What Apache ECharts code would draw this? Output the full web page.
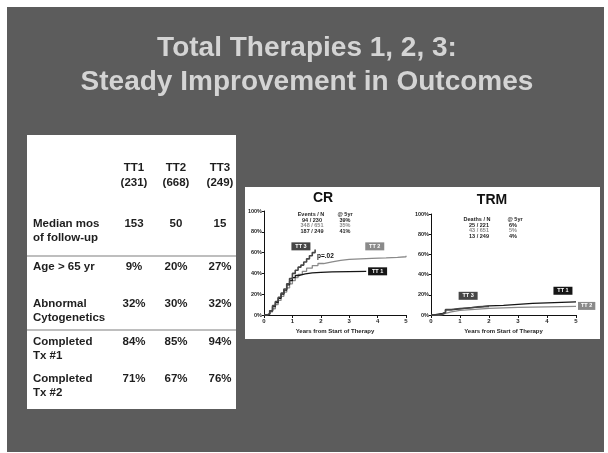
<!DOCTYPE html>
<html lang="en">
<head>
<meta charset="UTF-8" />
<title>Total Therapies 1, 2, 3</title>
<script src="https://cdn.jsdelivr.net/npm/echarts@6/dist/echarts.min.js"></script>
<style>
  * { margin: 0; padding: 0; box-sizing: border-box; }
  body { background: #fff; width: 608px; height: 453px; overflow: hidden; }
  #chart { width: 608px; height: 453px; }
</style>
</head>
<body>
<div id="chart"></div>
<script>
/* ---------- data ---------- */
const titleLines = ["Total Therapies 1, 2, 3:", "Steady Improvement in Outcomes"];

const arms = ["TT1", "TT2", "TT3"];
const armN = ["(231)", "(668)", "(249)"];
const armTags = ["TT 1", "TT 2", "TT 3"];
const rowLabels = [
  ["Median mos", "of follow-up"],
  ["Age > 65 yr"],
  ["Abnormal", "Cytogenetics"],
  ["Completed", "Tx #1"],
  ["Completed", "Tx #2"]
];
const rowValues = [
  ["153", "50", "15"],
  ["9%", "20%", "27%"],
  ["32%", "30%", "32%"],
  ["84%", "85%", "94%"],
  ["71%", "67%", "76%"]
];

// CR curves: [years, %]
const crTT1 = [[0,0],[0.12,1],[0.2,4],[0.3,8],[0.4,12],[0.5,16],[0.6,20],[0.7,24],[0.8,29],[0.9,33],
  [1.0,36],[1.1,38],[1.25,39.5],[1.45,40.5],[1.7,41],[2.0,41.5],[2.4,42],[3.6,42]];
const crTT2 = [[0,0],[0.1,1],[0.2,3],[0.3,6],[0.4,10],[0.5,14],[0.6,18],[0.7,22],[0.8,26],[0.9,30],
  [1.0,33],[1.1,36],[1.2,39],[1.35,42],[1.5,45],[1.7,47.5],[1.9,49.5],[2.1,51],[2.4,52.5],[2.7,53.5],
  [3.0,54],[3.4,54.5],[3.8,55],[4.3,55.5],[4.7,56],[5.0,57]];
const crTT3 = [[0,0],[0.1,1],[0.2,4],[0.3,9],[0.4,13],[0.5,17],[0.6,21],[0.7,25],[0.8,30],[0.9,35],
  [1.0,40],[1.1,43],[1.2,46],[1.3,48],[1.4,51],[1.5,54],[1.6,57],[1.7,60],[1.8,63]];
const crEvents = ["94 / 230", "348 / 651", "187 / 249"];
const crAt5 = ["39%", "35%", "41%"];
const crP = "p=.02";

// TRM curves: [years, %]
const trmTT1 = [[0,0],[0.1,0.5],[0.2,1],[0.3,1.5],[0.4,2.5],[0.5,5],[0.7,6],[1.0,7],[1.3,8],[1.7,9],
  [2.0,9.5],[2.5,10.5],[3.0,11.5],[3.5,12],[4.0,12.5],[4.5,13],[5.0,13.5]];
const trmTT2 = [[0,0],[0.2,0.5],[0.4,1.5],[0.5,3],[0.7,4.5],[1.0,5.5],[1.5,6.5],[2.0,7],[2.5,7.5],
  [3.0,8],[4.0,8.5],[5.0,9]];
const trmTT3 = [[0,0],[0.2,1],[0.4,2.5],[0.5,5.5],[0.7,6.5],[1.0,7],[1.3,8],[1.6,8.5],[2.0,9]];
const trmDeaths = ["25 / 221", "43 / 651", "13 / 249"];
const trmAt5 = ["6%", "5%", "4%"];

/* ---------- styling ---------- */
const FONT = "'Liberation Sans', Arial, sans-serif";
const armColor = ["#151515", "#8a8a8a", "#464646"];
const ink = "#1e1e1e";

const chart = echarts.init(document.getElementById("chart"), null, { renderer: "canvas" });

function xAx(i) {
  return {
    type: "value", gridIndex: i, min: 0, max: 5, interval: 1,
    axisLine: { lineStyle: { color: "#111", width: 1 } },
    axisTick: { length: 3, lineStyle: { color: "#111" } },
    axisLabel: { fontSize: 6, fontWeight: "bold", color: ink, margin: 3, fontFamily: FONT },
    splitLine: { show: false },
    name: "Years from Start of Therapy", nameLocation: "middle", nameGap: 13,
    nameTextStyle: { fontSize: 6, fontWeight: "bold", color: ink, fontFamily: FONT }
  };
}
function yAx(i) {
  return {
    type: "value", gridIndex: i, min: 0, max: 100, interval: 20,
    axisLine: { show: true, lineStyle: { color: "#111", width: 1 } },
    axisTick: { show: true, length: 2, lineStyle: { color: "#111" } },
    axisLabel: { formatter: "{value}%", fontSize: 5.5, fontWeight: "bold", color: ink, margin: 2, fontFamily: FONT },
    splitLine: { show: false }
  };
}
const tagLabel = (k) => ({ show: true, formatter: armTags[k], color: "#fff",
  fontSize: 5.5, fontWeight: "bold", fontFamily: FONT });

function curve(name, g, k, data, coord, w) {
  const s = {
    name: name, type: "line", xAxisIndex: g, yAxisIndex: g, step: "end",
    data: data, showSymbol: false, clip: false, silent: true,
    lineStyle: { color: armColor[k], width: w || 1.3 }
  };
  if (coord) {
    s.markPoint = {
      symbol: "rect", symbolSize: [19, 8], silent: true, animation: false,
      itemStyle: { color: armColor[k] },
      label: Object.assign(tagLabel(k), { position: "inside" }),
      data: [{ coord: coord }]
    };
  } else {
    // tag sitting just past the end of the curve
    s.endLabel = Object.assign(tagLabel(k), {
      backgroundColor: armColor[k], padding: [1, 3, 1, 3], distance: 2, lineHeight: 6
    });
  }
  return s;
}

/* ---------- graphic: slide, table, annotations ---------- */
const g = [];
g.push({ type: "rect", z: -100, silent: true, shape: { x: 7, y: 7, width: 597, height: 445 }, style: { fill: "#5c5c5c" } });
g.push({ type: "rect", z: -90, silent: true, shape: { x: 27, y: 135, width: 209, height: 274 }, style: { fill: "#fff" } });
g.push({ type: "rect", z: -90, silent: true, shape: { x: 245, y: 187, width: 355, height: 152 }, style: { fill: "#fff" } });

function txt(x, y, s, size, color, align, weight) {
  g.push({ type: "text", x: x, y: y, silent: true,
    style: { text: s, fill: color || ink, font: (weight || "bold") + " " + size + "px " + FONT,
      textAlign: align || "left", textVerticalAlign: "middle" } });
}

// title
titleLines.forEach((s, i) => txt(307, 48 + i * 34, s, 28, "#d4d4d4", "center"));

// table
const colX = [134, 176, 220];
arms.forEach((a, j) => { txt(colX[j], 168, a, 11.5, ink, "center"); txt(colX[j], 183, armN[j], 11.5, ink, "center"); });
const rowY = [224, 267, 304, 342, 379];
rowLabels.forEach((lines, i) => {
  lines.forEach((s, l) => txt(33, rowY[i] + l * 14, s, 11.5));
  rowValues[i].forEach((v, j) => txt(colX[j], rowY[i], v, 11.5, ink, "center"));
});
[256, 330].forEach(y => g.push({ type: "line", silent: true, shape: { x1: 27, y1: y, x2: 236, y2: y },
  style: { stroke: "#a8a8a8", lineWidth: 1.5 } }));

// panel titles and notes
txt(323, 198, "CR", 14, "#111", "center");
txt(492, 200, "TRM", 14, "#111", "center");
const noteColor = [ink, "#8a8a8a", ink];
txt(311, 214, "Events / N", 5.5, ink, "center");
txt(345, 214, "@ 5yr", 5.5, ink, "center");
crEvents.forEach((s, i) => { txt(312, 220 + i * 5.5, s, 5.5, noteColor[i], "center"); txt(345, 220 + i * 5.5, crAt5[i], 5.5, noteColor[i], "center"); });
txt(477, 219, "Deaths / N", 5.5, ink, "center");
txt(515, 219, "@ 5yr", 5.5, ink, "center");
trmDeaths.forEach((s, i) => { txt(479, 225 + i * 5.5, s, 5.5, noteColor[i], "center"); txt(513, 225 + i * 5.5, trmAt5[i], 5.5, noteColor[i], "center"); });
txt(317, 256, crP, 6.5, "#111", "left");

chart.setOption({
  animation: false,
  grid: [
    { left: 264, top: 211, width: 142, height: 104 },
    { left: 431, top: 214, width: 145, height: 101 }
  ],
  xAxis: [xAx(0), xAx(1)],
  yAxis: [yAx(0), yAx(1)],
  graphic: { elements: g },
  series: [
    curve("CR TT2", 0, 1, crTT2, [3.9, 66]),
    curve("CR TT1", 0, 0, crTT1, [4.0, 42]),
    curve("CR TT3", 0, 2, crTT3, [1.3, 66], 1.6),
    curve("TRM TT2", 1, 1, trmTT2, null),
    curve("TRM TT1", 1, 0, trmTT1, [4.55, 24]),
    curve("TRM TT3", 1, 2, trmTT3, [1.28, 19], 1.6)
  ]
});
</script>
</body>
</html>
